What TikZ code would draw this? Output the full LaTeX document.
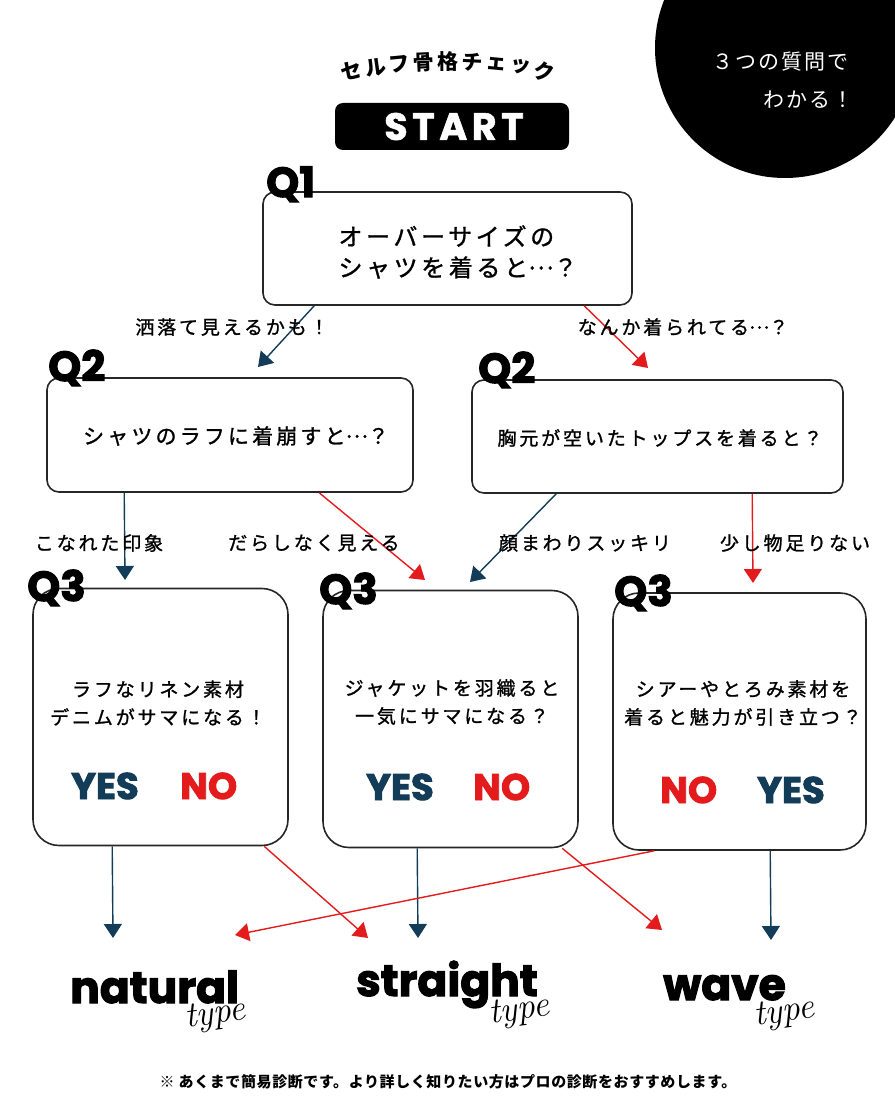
\documentclass[tikz,border=0pt]{standalone}
\usepackage{fontspec}
\usetikzlibrary{arrows.meta}
\newfontfamily\jpq{Noto Sans CJK JP}[LetterSpace=15,FakeBold=1.2]
\newfontfamily\jpm{Noto Sans CJK JP}[LetterSpace=10]
\newfontfamily\jpn{Noto Sans CJK JP}[LetterSpace=4]
\newfontfamily\popk{Poppins Bold}[FakeBold=2.5]
\newfontfamily\popw{Poppins Bold}[LetterSpace=12,FakeBold=1.5]
\definecolor{navy}{HTML}{133C58}
\definecolor{ared}{HTML}{E31B1D}
\newcommand{\middots}{\raisebox{.3em}{…}}

\begin{document}
\begin{tikzpicture}[x=1pt,y=-1pt,
    qbox/.style={draw=black!85,line width=1.6pt,rounded corners=12pt,inner sep=0pt},
    bigbox/.style={qbox,rounded corners=26pt,minimum width=255pt,minimum height=257pt},
    qtag/.style={font=\popk\fontsize{42}{42}\selectfont,anchor=base west,inner sep=0pt},
    asktext/.style={font=\jpq\fontsize{19}{28}\selectfont,align=center,inner sep=0pt},
    hint/.style={font=\jpq\fontsize{19}{19}\selectfont,inner sep=0pt},
    yeslbl/.style={font=\popk\fontsize{37}{37}\selectfont,text=navy,anchor=base west,inner sep=0pt},
    nolbl/.style={yeslbl,text=ared},
    golink/.style={navy,line width=1.4pt,-{Triangle[length=14pt,width=18pt]}},
    stoplink/.style={golink,ared},
    kind/.style={font=\popk\fontsize{44}{44}\selectfont,anchor=base west,inner sep=0pt},
    subkind/.style={font=\itshape\fontsize{36}{36}\selectfont,anchor=base west,inner sep=0pt,rotate=8}]
  \useasboundingbox (0,0) rectangle (894,1118);

  % corner badge
  \fill (785,48) circle[radius=130];
  \node[font=\jpm\fontsize{21}{21}\selectfont,text=white,anchor=east,inner sep=0pt] (badge1) at (849,62) {３つの質問で};
  \node[font=\jpm\fontsize{21}{21}\selectfont,text=white,anchor=east,inner sep=0pt] (badge2) at (854,100) {わかる！};

  % title on an arc
  \foreach \c [count=\i] in {セ,ル,フ,骨,格,チ,ェ,ッ,ク}
    \node[font=\jpn\bfseries\fontsize{21}{21}\selectfont,rotate={(5-\i)*2.7},inner sep=0pt] (head\i)
      at ({448+505*cos(90+(5-\i)*2.75)},{567-505*sin(90+(5-\i)*2.75)}) {\c};

  \node[fill=black,rounded corners=8pt,minimum width=234pt,minimum height=47pt,inner sep=0pt,
        font=\popw\fontsize{38}{38}\selectfont,text=white] (start) at (452,126.5) {\hspace{4pt}START};

  % Q1
  \node[qbox,minimum width=369pt,minimum height=113pt] (q1) at (447.5,248.5) {};
  \node[font=\jpq\fontsize{24}{31}\selectfont,align=left,inner sep=0pt] (q1txt) at (458,252) {オーバーサイズの\\シャツを着ると\middots？};
  \node[qtag] (q1tag) at (266,197) {Q1};

  % Q2
  \node[qbox,minimum width=366pt,minimum height=114pt] (q2a) at (230,435) {};
  \node[font=\jpq\fontsize{21}{21}\selectfont,inner sep=0pt] (q2atxt) at (236,436) {シャツのラフに着崩すと\middots？};
  \node[qtag] (q2atag) at (48,381) {Q2};
  \node[qbox,minimum width=371pt,minimum height=113pt] (q2b) at (657.5,436.5) {};
  \node[font=\jpq\fontsize{19}{19}\selectfont,inner sep=0pt] (q2btxt) at (660,438) {胸元が空いたトップスを着ると？};
  \node[qtag] (q2btag) at (478,383) {Q2};

  \coordinate (tipa) at (258,367);
  \coordinate (tipb) at (648,368);
  \draw[golink] ([xshift=52pt]q1.south west) -- (tipa);
  \draw[stoplink] ([xshift=322pt]q1.south west) -- (tipb);
  \node[hint] (lbla) at (232,327) {洒落て見えるかも！};
  \node[hint] (lblb) at (683,327) {なんか着られてる\middots？};

  % Q3
  \node[bigbox] (q3a) at (160.5,717) {};
  \node[bigbox] (q3b) at (450.5,719) {};
  \node[bigbox,minimum width=253pt] (q3c) at (739.5,721.5) {};
  \node[qtag] (q3atag) at (27,601) {Q3};
  \node[qtag] (q3btag) at (319,604) {Q3};
  \node[qtag] (q3ctag) at (614,606) {Q3};
  \node[asktext] (q3atxt) at (158,703) {ラフなリネン素材\\デニムがサマになる！};
  \node[asktext] (q3btxt) at (452,702) {ジャケットを羽織ると\\一気にサマになる？};
  \node[asktext] (q3ctxt) at (743,703) {シアーやとろみ素材を\\着ると魅力が引き立つ？};
  \node[yeslbl] (yesa) at (71,799) {YES};
  \node[nolbl] (noa) at (180,799) {NO};
  \node[yeslbl] (yesb) at (366,800) {YES};
  \node[nolbl] (nob) at (473,800) {NO};
  \node[nolbl] (noc) at (660,803) {NO};
  \node[yeslbl] (yesc) at (757,803) {YES};

  \coordinate (tipc) at (125,580);
  \coordinate (tipd) at (425,580);
  \coordinate (tipe) at (470,582);
  \coordinate (tipf) at (753,583);
  \draw[golink] ([xshift=78pt]q2a.south west) -- (tipc);
  \draw[stoplink] ([xshift=273pt]q2a.south west) -- (tipd);
  \draw[golink] ([xshift=85pt]q2b.south west) -- (tipe);
  \draw[stoplink] ([xshift=281pt]q2b.south west) -- (tipf);
  \node[hint] (lblc) at (99,543) {こなれた印象};
  \node[hint] (lbld) at (314,543) {だらしなく見える};
  \node[hint] (lble) at (585,543) {顔まわりスッキリ};
  \node[hint] (lblf) at (795,543) {少し物足りない};

  % results
  \coordinate (tipg) at (113,938);
  \coordinate (tiph) at (368,938);
  \coordinate (tipi) at (418,938);
  \coordinate (tipj) at (662,930);
  \coordinate (tipk) at (771,940);
  \coordinate (tipl) at (235,935);
  \draw[golink] ([xshift=80pt]q3a.south west) -- (tipg);
  \draw[stoplink] ([xshift=232pt]q3a.south west) -- (tiph);
  \draw[golink] ([xshift=95pt]q3b.south west) -- (tipi);
  \draw[stoplink] ([xshift=240pt]q3b.south west) -- (tipj);
  \draw[golink] ([xshift=158pt]q3c.south west) -- (tipk);
  \draw[stoplink] ([xshift=42pt]q3c.south west) -- (tipl);

  \node[kind] (nat) at (70,1003) {natural};
  \node[subkind] (natsub) at (186,1028) {type};
  \node[kind] (str) at (356,996) {straight};
  \node[subkind] (strsub) at (490,1024) {type};
  \node[kind] (wav) at (663,1000) {wave};
  \node[subkind] (wavsub) at (755,1026) {type};

  \node[font=\jpn\bfseries\fontsize{15}{15}\selectfont,inner sep=0pt] (note) at (448,1082) {※ あくまで簡易診断です。より詳しく知りたい方はプロの診断をおすすめします。};
\end{tikzpicture}
\end{document}
